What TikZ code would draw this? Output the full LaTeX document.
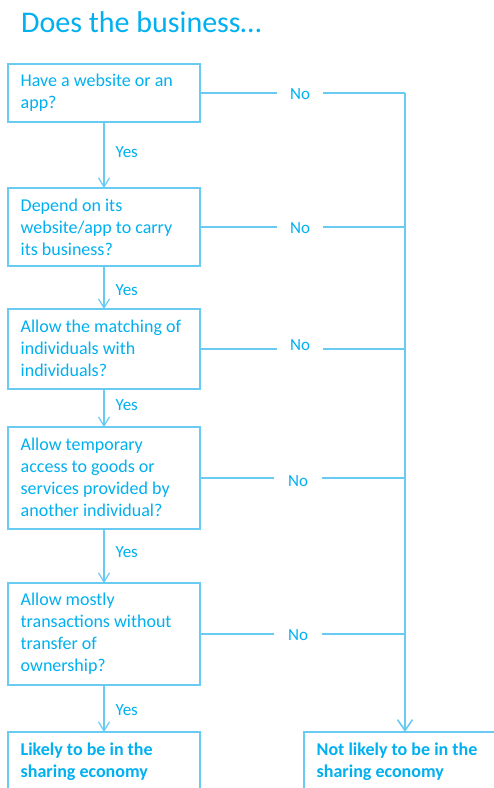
\documentclass[tikz,border=0pt]{standalone}
\usepackage{fontspec}
\setmainfont{Carlito}
\usetikzlibrary{arrows.meta}
\definecolor{txt}{RGB}{0,176,240}
\definecolor{ln}{RGB}{105,203,242}
\begin{document}
\begin{tikzpicture}[x=1pt,y=-1pt,
  box/.style={draw=ln, line width=1.5pt, rectangle, inner sep=0pt, outer sep=0pt, anchor=north west, minimum width=192pt},
  qtext/.style={anchor=base west, inner sep=0pt, text=txt, font=\fontsize{18}{22}\selectfont},
  lbl/.style={anchor=base, inner sep=0pt, text=txt, font=\fontsize{17}{20}\selectfont},
  conn/.style={draw=ln, line width=1.2pt},
  yesarrow/.style={conn, -{Straight Barb[length=9pt,width=11pt,line width=1.2pt]}},
]
\clip (0,0) rectangle (494,788);
\fill[white] (0,0) rectangle (494,788);

% title
\node[anchor=base west, inner sep=0pt, text=txt, font=\fontsize{30}{36}\selectfont] (title) at (21,32) {Does the business…};

% boxes
\node[box, minimum height=58pt] (b1) at (8,64) {};
\node[box, minimum height=78pt] (b2) at (8,188) {};
\node[box, minimum height=80pt] (b3) at (8,309) {};
\node[box, minimum height=102pt] (b4) at (8,427) {};
\node[box, minimum height=102pt] (b5) at (8,583) {};
\node[box, minimum height=90pt] (b6) at (8,732) {};
\node[box, minimum height=90pt, minimum width=230pt] (b7) at (304,732) {};

% texts
\node[qtext] (t1) at (20.5,86) {\begin{tabular}[t]{@{}l@{}}Have a website or an\\app?\end{tabular}};
\node[qtext] (t2) at (20.5,211.5) {\begin{tabular}[t]{@{}l@{}}Depend on its\\website/app to carry\\its business?\end{tabular}};
\node[qtext] (t3) at (20.5,332) {\begin{tabular}[t]{@{}l@{}}Allow the matching of\\individuals with\\individuals?\end{tabular}};
\node[qtext] (t4) at (20.5,450) {\begin{tabular}[t]{@{}l@{}}Allow temporary\\access to goods or\\services provided by\\another individual?\end{tabular}};
\node[qtext] (t5) at (20.5,605) {\begin{tabular}[t]{@{}l@{}}Allow mostly\\transactions without\\transfer of\\ownership?\end{tabular}};
\node[qtext, font=\fontsize{18}{22}\selectfont\bfseries] (t6) at (20.5,755) {\begin{tabular}[t]{@{}l@{}}Likely to be in the\\sharing economy\end{tabular}};
\node[qtext, font=\fontsize{18}{22}\selectfont\bfseries] (t7) at (316.5,755) {\begin{tabular}[t]{@{}l@{}}Not likely to be in the\\sharing economy\end{tabular}};

% yes arrows
\draw[yesarrow] (b1.south) -- (b2.north);
\draw[yesarrow] (b2.south) -- (b3.north);
\draw[yesarrow] (b3.south) -- (b4.north);
\draw[yesarrow] (b4.south) -- (b5.north);
\draw[yesarrow] (b5.south) -- (b6.north);

\node[anchor=base west, inner sep=0pt, text=txt, font=\fontsize{17}{20}\selectfont] (y1) at (115.5,157) {Yes};
\node[anchor=base west, inner sep=0pt, text=txt, font=\fontsize{17}{20}\selectfont] (y2) at (115.5,295) {Yes};
\node[anchor=base west, inner sep=0pt, text=txt, font=\fontsize{17}{20}\selectfont] (y3) at (115.5,410.5) {Yes};
\node[anchor=base west, inner sep=0pt, text=txt, font=\fontsize{17}{20}\selectfont] (y4) at (115.5,557.5) {Yes};
\node[anchor=base west, inner sep=0pt, text=txt, font=\fontsize{17}{20}\selectfont] (y5) at (115.5,715.5) {Yes};

% no labels
\node[lbl] (n1) at (300,99.5) {No};
\node[lbl] (n2) at (300,233.5) {No};
\node[lbl] (n3) at (300,350) {No};
\node[lbl] (n4) at (298,486.5) {No};
\node[lbl] (n5) at (298,640) {No};

% rail coordinates
\coordinate (r1) at (405,93);
\coordinate (r2) at (405,227);
\coordinate (r3) at (405,349);
\coordinate (r4) at (405,478);
\coordinate (r5) at (405,634);
\coordinate (g1a) at (277,93);   \coordinate (g1b) at (323,93);
\coordinate (g2a) at (277,227);  \coordinate (g2b) at (323,227);
\coordinate (g3a) at (277,349);  \coordinate (g3b) at (323,349);
\coordinate (g4a) at (274,478);  \coordinate (g4b) at (321.5,478);
\coordinate (g5a) at (274,634);  \coordinate (g5b) at (321.5,634);

\draw[conn] (b1.east) -- (g1a) (g1b) -- (r1);
\draw[conn] (b2.east) -- (g2a) (g2b) -- (r2);
\draw[conn] (b3.east) -- (g3a) (g3b) -- (r3);
\draw[conn] (b4.east) -- (g4a) (g4b) -- (r4);
\draw[conn] (b5.east) -- (g5a) (g5b) -- (r5);

\draw[conn, line width=1.6pt, -{Straight Barb[length=11pt,width=15pt,line width=1.6pt]}] (r1) -- (r1 |- b7.north);
\end{tikzpicture}
\end{document}
